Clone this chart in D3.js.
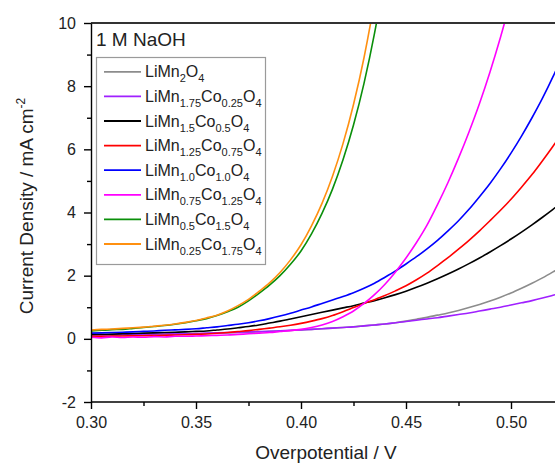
<!DOCTYPE html>
<html>
<head>
<meta charset="utf-8">
<script src="https://cdn.jsdelivr.net/npm/d3@7"></script>
<style>
  html, body { margin: 0; padding: 0; background: #fff; }
  svg { display: block; font-family: "Liberation Sans", Arial, sans-serif; }
</style>
</head>
<body>
<svg id="chart" width="555" height="464"></svg>
<script>
// Overpotential grid (V), shared by every polarisation curve
const potentials = [
  0.300, 0.305, 0.310, 0.315, 0.320, 0.325, 0.330, 0.335, 0.340, 0.345,
  0.350, 0.355, 0.360, 0.365, 0.370, 0.375, 0.380, 0.385, 0.390, 0.395,
  0.400, 0.405, 0.410, 0.415, 0.420, 0.425, 0.430, 0.435, 0.440, 0.445,
  0.450, 0.455, 0.460, 0.465, 0.470, 0.475, 0.480, 0.485, 0.490, 0.495,
  0.500, 0.505, 0.510, 0.515, 0.520, 0.525, 0.530
];

// Current density (mA cm-2) per composition, on the grid above
const jLiMn2O4 = [
  0.10, 0.105, 0.11, 0.115, 0.12, 0.125, 0.13, 0.14, 0.145, 0.15,
  0.16, 0.17, 0.18, 0.19, 0.20, 0.21, 0.22, 0.235, 0.25, 0.265,
  0.28, 0.30, 0.32, 0.34, 0.36, 0.385, 0.41, 0.44, 0.47, 0.51,
  0.56, 0.62, 0.68, 0.75, 0.82, 0.90, 0.99, 1.09, 1.20, 1.32,
  1.45, 1.60, 1.76, 1.93, 2.12, 2.32, 2.54
];
const jMn175Co025 = [
  0.12, 0.125, 0.13, 0.135, 0.14, 0.145, 0.15, 0.155, 0.16, 0.165,
  0.17, 0.18, 0.19, 0.20, 0.21, 0.22, 0.23, 0.24, 0.255, 0.27,
  0.285, 0.30, 0.32, 0.34, 0.36, 0.38, 0.41, 0.44, 0.47, 0.51,
  0.55, 0.59, 0.63, 0.67, 0.72, 0.77, 0.82, 0.88, 0.94, 1.00,
  1.07, 1.14, 1.21, 1.29, 1.38, 1.47, 1.56
];
const jMn15Co05 = [
  0.14, 0.145, 0.15, 0.16, 0.17, 0.18, 0.19, 0.20, 0.21, 0.22,
  0.235, 0.25, 0.28, 0.31, 0.35, 0.39, 0.44, 0.50, 0.56, 0.63,
  0.70, 0.77, 0.84, 0.91, 0.98, 1.05, 1.13, 1.21, 1.30, 1.40,
  1.51, 1.63, 1.76, 1.90, 2.05, 2.21, 2.38, 2.56, 2.75, 2.95,
  3.16, 3.38, 3.61, 3.85, 4.10, 4.36, 4.63
];
const jMn125Co075 = [
  0.08, 0.08, 0.085, 0.09, 0.095, 0.10, 0.105, 0.11, 0.12, 0.13,
  0.14, 0.155, 0.175, 0.20, 0.23, 0.26, 0.30, 0.34, 0.38, 0.43,
  0.49, 0.56, 0.64, 0.74, 0.86, 0.99, 1.12, 1.24, 1.37, 1.52,
  1.68, 1.87, 2.08, 2.32, 2.57, 2.84, 3.12, 3.42, 3.74, 4.07,
  4.42, 4.80, 5.20, 5.64, 6.10, 6.58, 7.10
];
const jMn10Co10 = [
  0.18, 0.19, 0.20, 0.21, 0.22, 0.235, 0.25, 0.27, 0.285, 0.30,
  0.32, 0.35, 0.38, 0.42, 0.46, 0.51, 0.57, 0.64, 0.72, 0.81,
  0.91, 1.01, 1.12, 1.23, 1.34, 1.46, 1.60, 1.76, 1.95, 2.15,
  2.37, 2.60, 2.85, 3.12, 3.42, 3.74, 4.10, 4.50, 4.92, 5.38,
  5.88, 6.42, 7.00, 7.62, 8.30, 9.05, 9.85
];
const jMn075Co125 = [
  0.05, 0.03, 0.06, 0.04, 0.06, 0.05, 0.07, 0.06, 0.08, 0.08,
  0.09, 0.10, 0.11, 0.12, 0.14, 0.16, 0.18, 0.20, 0.23, 0.26,
  0.30, 0.36, 0.44, 0.55, 0.70, 0.88, 1.12, 1.40, 1.73, 2.12,
  2.56, 3.05, 3.60, 4.25, 4.95, 5.72, 6.55, 7.45, 8.45, 9.55,
  10.75, 12.0
];
const jMn05Co15 = [
  0.25, 0.27, 0.29, 0.30, 0.33, 0.36, 0.39, 0.42, 0.46, 0.51,
  0.57, 0.64, 0.74, 0.86, 1.00, 1.20, 1.44, 1.70, 2.00, 2.36,
  2.78, 3.32, 3.97, 4.74, 5.67, 6.77, 8.09, 9.67, 11.55, 13.8
];
const jMn025Co175 = [
  0.28, 0.30, 0.31, 0.33, 0.35, 0.37, 0.40, 0.43, 0.47, 0.52,
  0.58, 0.66, 0.75, 0.88, 1.05, 1.25, 1.50, 1.77, 2.10, 2.50,
  2.98, 3.58, 4.29, 5.15, 6.18, 7.42, 8.90, 10.7, 12.8
];

// Legend names: [text, subscript] pairs, and trace colours
const seriesNames = [
  [["LiMn", ""], ["2", "s"], ["O", ""], ["4", "s"]],
  [["LiMn", ""], ["1.75", "s"], ["Co", ""], ["0.25", "s"], ["O", ""], ["4", "s"]],
  [["LiMn", ""], ["1.5", "s"], ["Co", ""], ["0.5", "s"], ["O", ""], ["4", "s"]],
  [["LiMn", ""], ["1.25", "s"], ["Co", ""], ["0.75", "s"], ["O", ""], ["4", "s"]],
  [["LiMn", ""], ["1.0", "s"], ["Co", ""], ["1.0", "s"], ["O", ""], ["4", "s"]],
  [["LiMn", ""], ["0.75", "s"], ["Co", ""], ["1.25", "s"], ["O", ""], ["4", "s"]],
  [["LiMn", ""], ["0.5", "s"], ["Co", ""], ["1.5", "s"], ["O", ""], ["4", "s"]],
  [["LiMn", ""], ["0.25", "s"], ["Co", ""], ["1.75", "s"], ["O", ""], ["4", "s"]]
];
const seriesValues = [jLiMn2O4, jMn175Co025, jMn15Co05, jMn125Co075,
                      jMn10Co10, jMn075Co125, jMn05Co15, jMn025Co175];
const seriesColors = ["#8c8c8c", "#a020ff", "#000000", "#ff0000",
                      "#0000ff", "#ff00ff", "#0a8f0a", "#ff9010"];

// Axis ticks
const xMajorTicks = [0.30, 0.35, 0.40, 0.45, 0.50];
const xMinorTicks = [0.325, 0.375, 0.425, 0.475];
const yMajorTicks = [-2, 0, 2, 4, 6, 8, 10];
const yMinorTicks = [-1, 1, 3, 5, 7, 9];

const svg = d3.select("#chart");
const plotLeft = 91, plotRight = 560, plotTop = 23, plotBottom = 402;

const x = d3.scaleLinear().domain([0.30, 0.50]).range([plotLeft, 511]);
const y = d3.scaleLinear().domain([-2, 10]).range([plotBottom, plotTop]);

svg.append("defs").append("clipPath").attr("id", "plotClip")
  .append("rect").attr("x", plotLeft).attr("y", plotTop)
  .attr("width", plotRight - plotLeft).attr("height", plotBottom - plotTop);

// Curves
const line = d3.line()
  .x(d => x(d[0]))
  .y(d => y(d[1]))
  .curve(d3.curveMonotoneX);

const curves = svg.append("g").attr("clip-path", "url(#plotClip)");
seriesValues.forEach((vals, i) => {
  const pts = vals.map((v, k) => [potentials[k], v]);
  curves.append("path")
    .attr("d", line(pts))
    .attr("fill", "none")
    .attr("stroke", seriesColors[i])
    .attr("stroke-width", 1.6)
    .attr("stroke-linejoin", "round");
});

// Frame line along the top
svg.append("line")
  .attr("x1", plotLeft).attr("x2", 555).attr("y1", plotTop).attr("y2", plotTop)
  .attr("stroke", "#333").attr("stroke-width", 2);

// Axes
function styleAxis(g) {
  g.select(".domain").attr("stroke", "#000").attr("stroke-width", 1.4);
  g.selectAll(".tick line").attr("stroke", "#000").attr("stroke-width", 1.4);
  g.selectAll(".tick text").attr("fill", "#222")
    .style("font-size", "16px").style("font-family", "Liberation Sans, Arial, sans-serif");
}

const xAxis = svg.append("g").attr("transform", `translate(0,${plotBottom})`)
  .call(d3.axisBottom(x).tickValues(xMajorTicks).tickFormat(d3.format(".2f"))
    .tickSize(7).tickPadding(8).tickSizeOuter(0));
styleAxis(xAxis);
xAxis.select(".domain").attr("d", `M${plotLeft},0H555`);

const xMinor = svg.append("g").attr("transform", `translate(0,${plotBottom})`)
  .call(d3.axisBottom(x).tickValues(xMinorTicks).tickFormat("").tickSize(4).tickSizeOuter(0));
styleAxis(xMinor);
xMinor.select(".domain").remove();

const yAxis = svg.append("g").attr("transform", `translate(${plotLeft},0)`)
  .call(d3.axisLeft(y).tickValues(yMajorTicks).tickFormat(d3.format("d"))
    .tickSize(7).tickPadding(8).tickSizeOuter(0));
styleAxis(yAxis);
yAxis.selectAll(".tick text").text(d => d < 0 ? "-" + Math.abs(d) : d);

const yMinor = svg.append("g").attr("transform", `translate(${plotLeft},0)`)
  .call(d3.axisLeft(y).tickValues(yMinorTicks).tickFormat("").tickSize(4).tickSizeOuter(0));
styleAxis(yMinor);
yMinor.select(".domain").remove();

// Axis titles
svg.append("text")
  .attr("x", 326).attr("y", 459)
  .attr("text-anchor", "middle")
  .attr("fill", "#222")
  .style("font-size", "19px")
  .text("Overpotential / V");

const yTitle = svg.append("text")
  .attr("transform", "translate(33,206) rotate(-90)")
  .attr("text-anchor", "middle")
  .attr("fill", "#222")
  .style("font-size", "19px");
yTitle.append("tspan").text("Current Density / mA cm");
yTitle.append("tspan").attr("dy", -8).style("font-size", "12px").text("-2");

// Electrolyte annotation
svg.append("text")
  .attr("x", 96).attr("y", 46)
  .attr("fill", "#222")
  .style("font-size", "19px")
  .text("1 M NaOH");

// Legend
const legend = svg.append("g");
legend.append("rect")
  .attr("x", 96.5).attr("y", 57.5).attr("width", 169).attr("height", 207)
  .attr("fill", "#fff").attr("stroke", "#9a9a9a").attr("stroke-width", 1.2);

seriesNames.forEach((parts, i) => {
  const cy = 71.8 + i * 24.6;
  legend.append("line")
    .attr("x1", 104).attr("x2", 141).attr("y1", cy).attr("y2", cy)
    .attr("stroke", seriesColors[i]).attr("stroke-width", 1.8);
  const t = legend.append("text")
    .attr("x", 145).attr("y", cy + 5.5)
    .attr("fill", "#222")
    .style("font-size", "16px");
  let shifted = false;
  parts.forEach(([txt, kind]) => {
    const ts = t.append("tspan").text(txt);
    if (kind === "s") {
      ts.style("font-size", "11px").attr("dy", shifted ? 0 : 5);
      shifted = true;
    } else {
      if (shifted) ts.attr("dy", -5);
      shifted = false;
    }
  });
});
</script>
</body>
</html>
